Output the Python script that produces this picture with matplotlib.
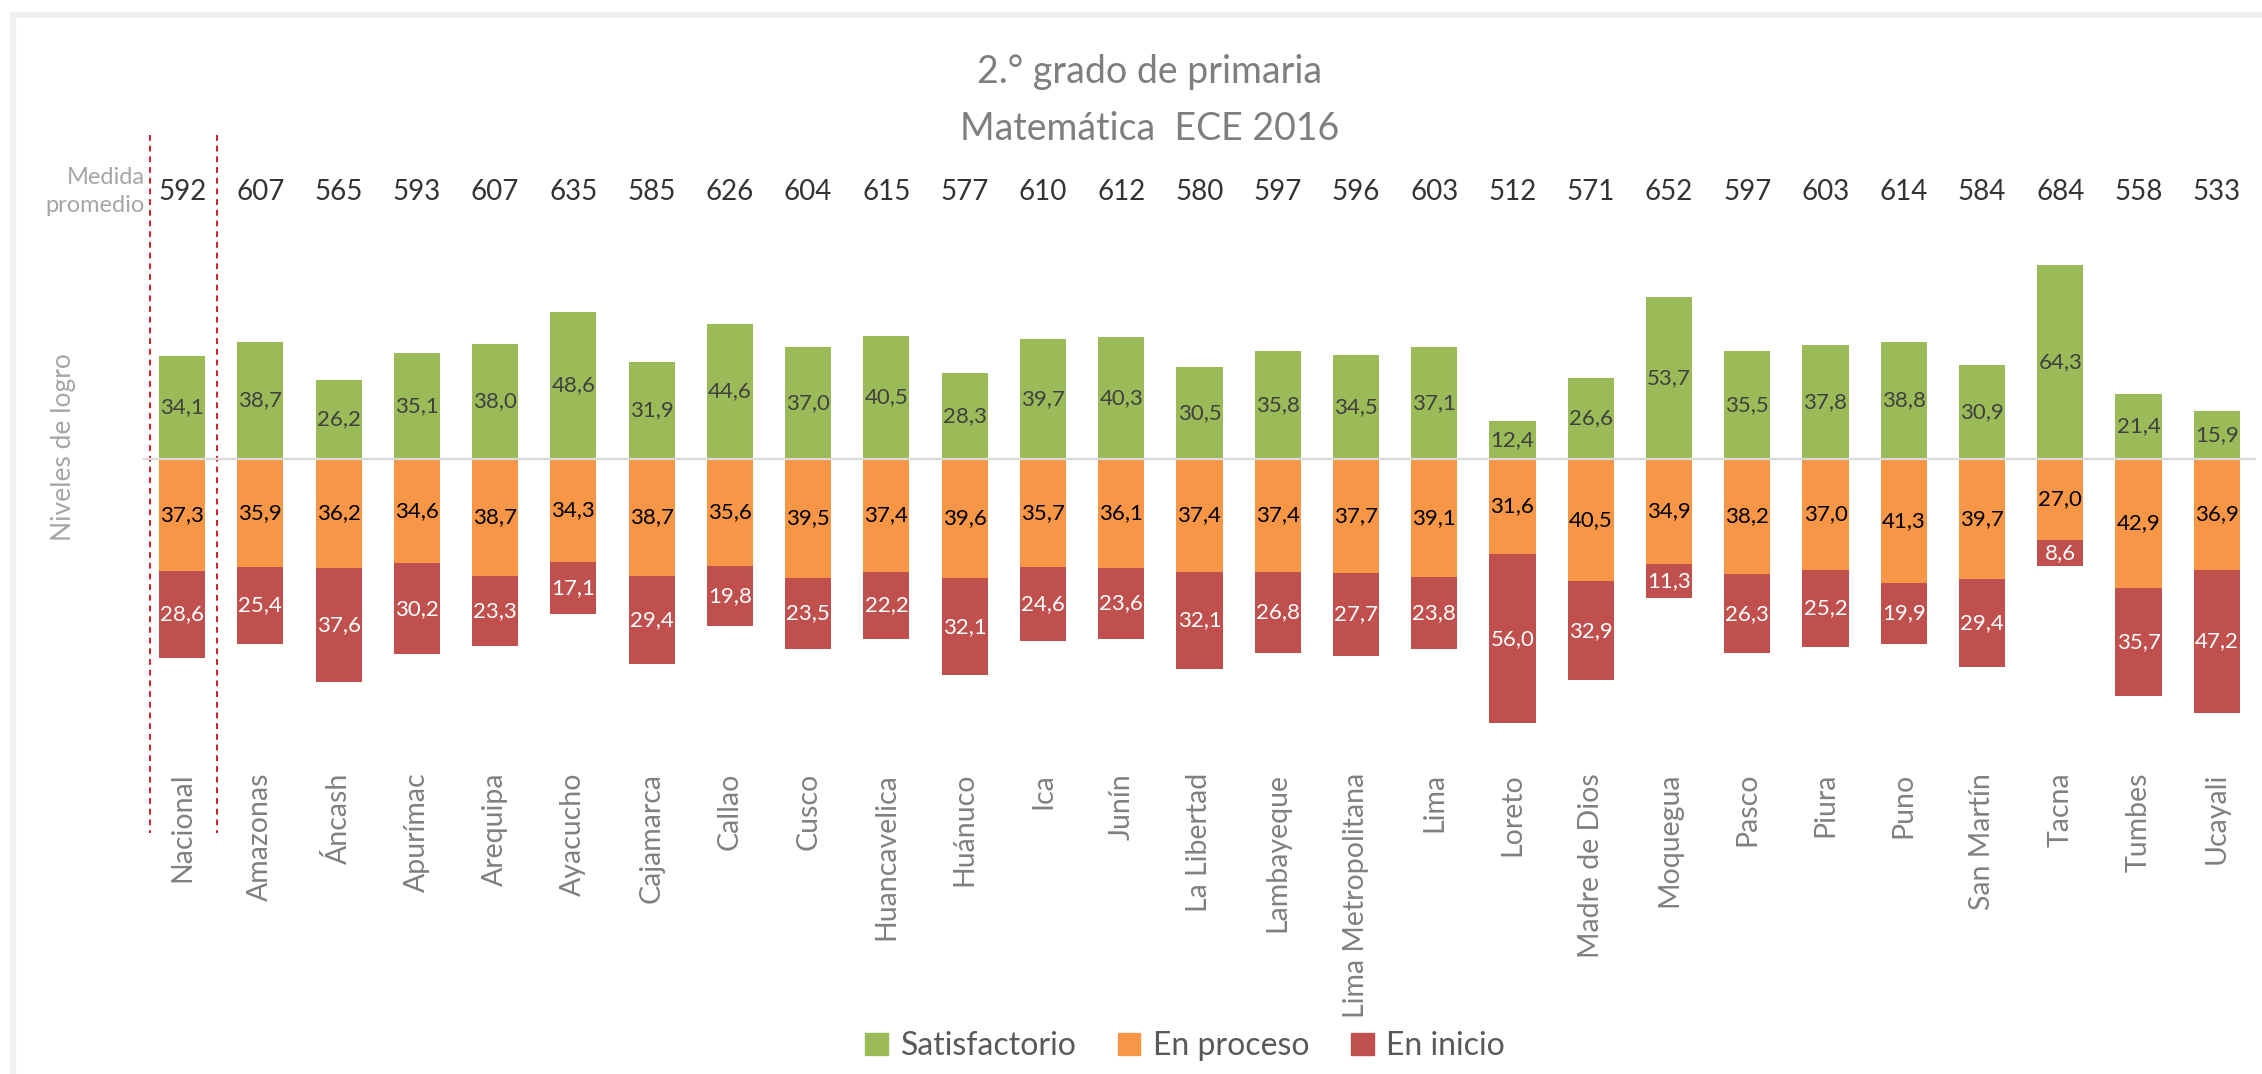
import numpy as np
import matplotlib.pyplot as plt
from matplotlib.patches import Patch, Rectangle

plt.rcParams['font.family'] = ['Lato', 'DejaVu Sans']

regiones = ["Nacional", "Amazonas", "Áncash", "Apurímac", "Arequipa", "Ayacucho",
            "Cajamarca", "Callao", "Cusco", "Huancavelica", "Huánuco", "Ica", "Junín",
            "La Libertad", "Lambayeque", "Lima Metropolitana", "Lima", "Loreto",
            "Madre de Dios", "Moquegua", "Pasco", "Piura", "Puno", "San Martín",
            "Tacna", "Tumbes", "Ucayali"]
medida = [592, 607, 565, 593, 607, 635, 585, 626, 604, 615, 577, 610, 612, 580,
          597, 596, 603, 512, 571, 652, 597, 603, 614, 584, 684, 558, 533]
satisfactorio = [34.1, 38.7, 26.2, 35.1, 38.0, 48.6, 31.9, 44.6, 37.0, 40.5, 28.3,
                 39.7, 40.3, 30.5, 35.8, 34.5, 37.1, 12.4, 26.6, 53.7, 35.5, 37.8,
                 38.8, 30.9, 64.3, 21.4, 15.9]
en_proceso = [37.3, 35.9, 36.2, 34.6, 38.7, 34.3, 38.7, 35.6, 39.5, 37.4, 39.6,
              35.7, 36.1, 37.4, 37.4, 37.7, 39.1, 31.6, 40.5, 34.9, 38.2, 37.0,
              41.3, 39.7, 27.0, 42.9, 36.9]
en_inicio = [28.6, 25.4, 37.6, 30.2, 23.3, 17.1, 29.4, 19.8, 23.5, 22.2, 32.1,
             24.6, 23.6, 32.1, 26.8, 27.7, 23.8, 56.0, 32.9, 11.3, 26.3, 25.2,
             19.9, 29.4, 8.6, 35.7, 47.2]

verde, naranja, rojo = "#9bbb59", "#f79646", "#c0504d"

sat = np.array(satisfactorio)
pro = np.array(en_proceso)
ini = np.array(en_inicio)
x = np.arange(len(regiones))

fig = plt.figure(figsize=(22.62, 10.74), dpi=100)
# marco gris claro (solo se ve arriba y a la izquierda)
fig.patches.append(Rectangle((13 / 2262, -0.1), 1.2, 1 - 15 / 1074 + 0.1,
                             transform=fig.transFigure, fill=False,
                             edgecolor="#f0f0f0", linewidth=4.5))

ax = fig.add_axes([0.0632, 0.2636, 0.9341, 0.6186])
w = 0.59
ax.bar(x, sat, w, color=verde)
ax.bar(x, -pro, w, color=naranja)
ax.bar(x, -ini, w, bottom=-pro, color=rojo)
ax.axhline(0, color="#d9d9d9", lw=1.6, zorder=3)

def fmt(v):
    return f"{v:.1f}".replace(".", ",")

for i in x:
    ax.text(i, sat[i] / 2, fmt(sat[i]), ha="center", va="center", fontsize=16, color="#404040")
    ax.text(i, -pro[i] / 2, fmt(pro[i]), ha="center", va="center", fontsize=16, color="#000000")
    ax.text(i, -pro[i] - ini[i] / 2, fmt(ini[i]), ha="center", va="center", fontsize=16, color="white")
    ax.text(i, 88.3, str(medida[i]), ha="center", va="center", fontsize=20, color="#333333")
    ax.text(i, -104, regiones[i], ha="center", va="top", rotation=90, fontsize=20.5, color="#808080")

ax.text(-0.97, 93.2, "Medida", ha="center", va="center", fontsize=17, color="#a6a6a6")
ax.text(-1.11, 84.0, "promedio", ha="center", va="center", fontsize=17, color="#a6a6a6")
ax.text(-1.51, 3.9, "Niveles de logro", ha="center", va="center", rotation=90,
        fontsize=19, color="#a6a6a6")

for xv in (-0.41, 0.443):
    ax.plot([xv, xv], [107.2, -124], color="#d0202a", lw=1.4, ls=(0, (3, 2.5)), clip_on=False)

ax.set_xlim(-0.5, 26.5)
ax.set_ylim(-110, 110)
ax.axis("off")

fig.text(0.5084, 1 - 83 / 1074, "2.° grado de primaria", ha="center", va="baseline",
         fontsize=27, color="#7f7f7f")
fig.text(0.5084, 1 - 140 / 1074, "Matemática  ECE 2016", ha="center", va="baseline",
         fontsize=27, color="#7f7f7f")

handles = [Patch(color=verde, label="Satisfactorio"),
           Patch(color=naranja, label="En proceso"),
           Patch(color=rojo, label="En inicio")]
fig.legend(handles=handles, loc="center", bbox_to_anchor=(0.524, 0.026), ncol=3,
           frameon=False, fontsize=23, labelcolor="#595959", handlelength=0.7,
           handleheight=0.7, handletextpad=0.4, columnspacing=1.3)

fig.savefig("out.png", dpi=100, facecolor="white")
